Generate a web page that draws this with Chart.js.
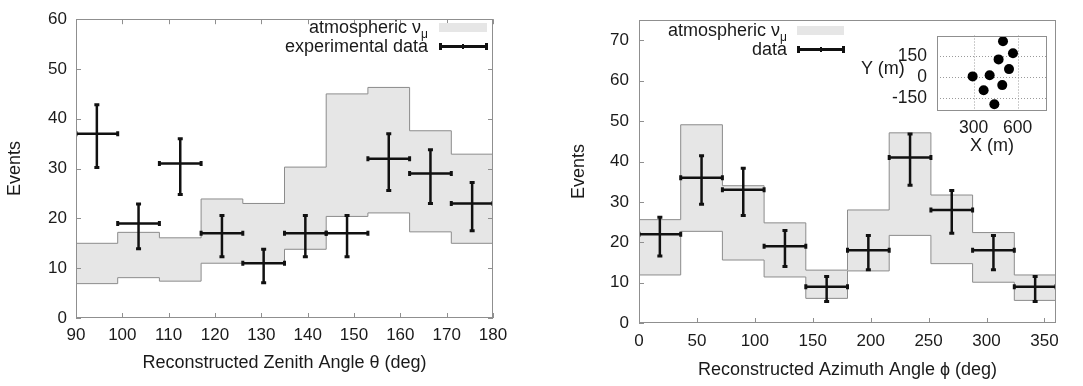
<!DOCTYPE html>
<html>
<head>
<meta charset="utf-8">
<script src="https://cdn.jsdelivr.net/npm/chart.js@4.4.1/dist/chart.umd.min.js"></script>
<style>
  html, body { margin: 0; padding: 0; background: #fff; }
  body { position: relative; width: 1083px; height: 386px; overflow: hidden; font-family: "Liberation Sans", Arial, sans-serif; }
  canvas { position: absolute; }
  .lt { position: absolute; font-size: 18px; line-height: 21px; color: #1a1a1a; white-space: nowrap; text-align: right; }
  .sub { font-size: 12px; position: relative; top: 5px; }
  .sw { position: absolute; background: #e6e6e6; }
  .bar { position: absolute; background: #111; }
</style>
</head>
<body>
<canvas id="zenith" width="540" height="386" style="left:0;top:0"></canvas>
<canvas id="azimuth" width="543" height="386" style="left:540px;top:0"></canvas>
<canvas id="layout" width="200" height="145" style="left:856px;top:15px"></canvas>

<!-- legenda grafico zenitale -->
<div class="lt" style="right:655px;top:17px">atmospheric ν<span class="sub">μ</span></div>
<div class="lt" style="right:655px;top:36px">experimental data</div>
<div class="sw" style="left:439px;top:23px;width:48px;height:9px"></div>
<div class="bar" style="left:439px;top:45px;width:48px;height:2.5px"></div>
<div class="bar" style="left:439px;top:43px;width:2.5px;height:7px"></div>
<div class="bar" style="left:485px;top:43px;width:2.5px;height:7px"></div>
<div class="bar" style="left:462px;top:44px;width:2px;height:5px"></div>

<!-- legenda grafico azimutale -->
<div class="lt" style="right:296px;top:19.5px">atmospheric ν<span class="sub">μ</span></div>
<div class="lt" style="right:296px;top:39px">data</div>
<div class="sw" style="left:797px;top:26px;width:47px;height:9px"></div>
<div class="bar" style="left:797px;top:48px;width:47px;height:2.5px"></div>
<div class="bar" style="left:797px;top:46px;width:2.5px;height:7px"></div>
<div class="bar" style="left:842px;top:46px;width:2.5px;height:7px"></div>
<div class="bar" style="left:820px;top:47px;width:2px;height:5px"></div>

<div class="lt" style="left:861px;top:57.5px">Y (m)</div>

<script>
// dati: angolo zenitale
const zenEdges = [90, 99, 108, 117, 126, 135, 144, 153, 162, 171, 180];
const zenBandLow = [6.9, 8.1, 7.4, 11.0, 11.0, 13.8, 20.4, 21.1, 17.3, 15.0];
const zenBandHigh = [15.0, 17.2, 16.1, 23.9, 23.0, 30.3, 45.0, 46.3, 37.6, 32.9];
const zenCounts = [37, 19, 31, 17, 11, 17, 17, 32, 29, 23];
const zenErrLow = [30.2, 13.9, 24.8, 12.3, 7.1, 12.3, 12.3, 25.6, 23.0, 17.5];
const zenErrHigh = [42.8, 22.9, 36.0, 20.6, 13.8, 20.6, 20.6, 37.0, 33.8, 27.2];
const zenXTicks = [90, 100, 110, 120, 130, 140, 150, 160, 170, 180];
const zenYTicks = [0, 10, 20, 30, 40, 50, 60];

// dati: angolo azimutale
const aziEdges = [0, 36, 72, 108, 144, 180, 216, 252, 288, 324, 360];
const aziBandLow = [11.9, 22.7, 15.6, 11.4, 6.1, 12.9, 21.7, 14.7, 10.1, 5.6];
const aziBandHigh = [25.6, 49.1, 34.0, 24.8, 13.1, 28.0, 47.1, 31.7, 22.4, 11.9];
const aziCounts = [22, 36, 33, 19, 9, 18, 41, 28, 18, 9];
const aziErrLow = [16.6, 29.4, 26.6, 14.0, 5.3, 13.2, 34.1, 22.2, 13.2, 5.3];
const aziErrHigh = [26.2, 41.4, 38.3, 22.9, 11.5, 21.7, 46.8, 32.8, 21.7, 11.5];
const aziXTicks = [0, 50, 100, 150, 200, 250, 300, 350];
const aziYTicks = [0, 10, 20, 30, 40, 50, 60, 70];

// posizione dei rivelatori (riquadro)
const detX = [500, 568, 470, 541, 293, 409, 495, 368, 441];
const detY = [254, 169, 125, 56, 4, 12, -58, -94, -194];
const layoutXTicks = [300, 600];
const layoutYTicks = [-150, 0, 150];

Chart.defaults.font.family = '"Liberation Sans", Arial, sans-serif';
Chart.defaults.color = '#1a1a1a';

// linea a gradini dai bordi dei bin
function stepPoints(edges, vals) {
    return edges.map((e, i) => ({x: e, y: vals[Math.min(i, vals.length - 1)]}));
}
function errH(edges, vals) {
    const out = [];
    vals.forEach((v, i) => {
        out.push({x: edges[i], y: v}, {x: edges[i + 1], y: v}, {x: edges[i + 1], y: null});
    });
    return out;
}
function errV(edges, lo, hi) {
    const out = [];
    lo.forEach((v, i) => {
        const c = (edges[i] + edges[i + 1]) / 2;
        out.push({x: c, y: v}, {x: c, y: hi[i]}, {x: c, y: null});
    });
    return out;
}

// cornice e tacche interne stile gnuplot
const framePlugin = {
    id: 'frame',
    beforeDatasetsDraw(chart, args, opts) {
        if (!opts.grid) return;
        const {ctx, chartArea: a, scales} = chart;
        ctx.save();
        ctx.strokeStyle = '#9a9a9a';
        ctx.lineWidth = 1;
        ctx.setLineDash([1, 2]);
        ctx.beginPath();
        scales.x.ticks.forEach(t => {
            const px = Math.round(scales.x.getPixelForValue(t.value)) + 0.5;
            ctx.moveTo(px, a.top); ctx.lineTo(px, a.bottom);
        });
        scales.y.ticks.forEach(t => {
            const py = Math.round(scales.y.getPixelForValue(t.value)) + 0.5;
            ctx.moveTo(a.left, py); ctx.lineTo(a.right, py);
        });
        ctx.stroke();
        ctx.restore();
    },
    afterDatasetsDraw(chart, args, opts) {
        const {ctx, chartArea: a, scales} = chart;
        ctx.save();
        ctx.strokeStyle = opts.color || '#8f8f8f';
        ctx.lineWidth = 1;
        ctx.strokeRect(Math.round(a.left) + 0.5, Math.round(a.top) + 0.5, Math.round(a.width) - 1, Math.round(a.height) - 1);
        if (opts.ticks) {
            const len = 5;
            ctx.beginPath();
            scales.x.ticks.forEach(t => {
                const px = Math.round(scales.x.getPixelForValue(t.value)) + 0.5;
                ctx.moveTo(px, a.bottom); ctx.lineTo(px, a.bottom - len);
                if (opts.mirror) { ctx.moveTo(px, a.top); ctx.lineTo(px, a.top + len); }
            });
            scales.y.ticks.forEach(t => {
                const py = Math.round(scales.y.getPixelForValue(t.value)) + 0.5;
                ctx.moveTo(a.left, py); ctx.lineTo(a.left + len, py);
                if (opts.mirror) { ctx.moveTo(a.right, py); ctx.lineTo(a.right - len, py); }
            });
            ctx.stroke();
        }
        ctx.restore();
    }
};

function histChart(id, cfg) {
    const tickFont = {size: 17};
    const titleFont = {size: 18};
    return new Chart(document.getElementById(id), {
        type: 'line',
        data: {
            datasets: [{
                data: errH(cfg.edges, cfg.counts),
                borderColor: '#111',
                borderWidth: 2.5,
                pointStyle: 'line',
                pointRotation: 90,
                pointRadius: 2.5,
                pointBorderWidth: 3,
                pointBorderColor: '#111',
                fill: false
            }, {
                data: errV(cfg.edges, cfg.errLow, cfg.errHigh),
                borderColor: '#111',
                borderWidth: 2.5,
                pointStyle: 'line',
                pointRotation: 0,
                pointRadius: 2.5,
                pointBorderWidth: 3,
                pointBorderColor: '#111',
                fill: false
            }, {
                data: stepPoints(cfg.edges, cfg.bandHigh),
                stepped: true,
                borderColor: '#8c8c8c',
                borderWidth: 1,
                pointRadius: 0,
                backgroundColor: '#e6e6e6',
                fill: '+1'
            }, {
                data: stepPoints(cfg.edges, cfg.bandLow),
                stepped: true,
                borderColor: '#8c8c8c',
                borderWidth: 1,
                pointRadius: 0,
                fill: false
            }]
        },
        options: {
            responsive: false,
            animation: false,
            layout: {padding: cfg.padding},
            plugins: {
                legend: {display: false},
                tooltip: {enabled: false},
                filler: {drawTime: 'beforeDatasetsDraw'},
                frame: {ticks: true, mirror: cfg.mirror}
            },
            scales: {
                x: {
                    type: 'linear',
                    min: cfg.xMin,
                    max: cfg.xMax,
                    afterBuildTicks: s => { s.ticks = cfg.xTicks.map(v => ({value: v})); },
                    afterFit: s => { s.height = cfg.xHeight; },
                    grid: {display: false, drawTicks: false},
                    border: {display: false},
                    ticks: {font: tickFont, padding: cfg.xPad, maxRotation: 0, autoSkip: false},
                    title: {display: true, text: cfg.xTitle, font: titleFont, padding: {top: 0, bottom: cfg.xTitlePad}}
                },
                y: {
                    type: 'linear',
                    min: 0,
                    max: cfg.yMax,
                    afterBuildTicks: s => { s.ticks = cfg.yTicks.map(v => ({value: v})); },
                    afterFit: s => { s.width = cfg.yWidth; },
                    grid: {display: false, drawTicks: false},
                    border: {display: false},
                    ticks: {font: tickFont, padding: cfg.yPad},
                    title: {display: true, text: 'Events', font: titleFont, padding: {top: cfg.yTitlePad, bottom: 0}}
                }
            }
        },
        plugins: [framePlugin]
    });
}

histChart('zenith', {
    edges: zenEdges, counts: zenCounts, errLow: zenErrLow, errHigh: zenErrHigh,
    bandLow: zenBandLow, bandHigh: zenBandHigh,
    xMin: 90, xMax: 180, yMax: 60, xTicks: zenXTicks, yTicks: zenYTicks,
    xTitle: 'Reconstructed Zenith Angle θ (deg)',
    padding: {top: 14, right: 47, left: 0, bottom: 0},
    xHeight: 68, yWidth: 76, xPad: 7.5, yPad: 9, xTitlePad: 12, yTitlePad: 4,
    mirror: true
});

histChart('azimuth', {
    edges: aziEdges, counts: aziCounts, errLow: aziErrLow, errHigh: aziErrHigh,
    bandLow: aziBandLow, bandHigh: aziBandHigh,
    xMin: 0, xMax: 360, yMax: 75, xTicks: aziXTicks, yTicks: aziYTicks,
    xTitle: 'Reconstructed Azimuth Angle ϕ (deg)',
    padding: {top: 17, right: 27, left: 0, bottom: 0},
    xHeight: 63, yWidth: 99, xPad: 8.5, yPad: 10, xTitlePad: 5, yTitlePad: 28,
    mirror: false
});

// riquadro con la disposizione dei rivelatori
new Chart(document.getElementById('layout'), {
    type: 'scatter',
    data: {
        datasets: [{
            data: detX.map((x, i) => ({x: x, y: detY[i]})),
            pointRadius: 5,
            backgroundColor: '#000',
            borderColor: '#000',
            borderWidth: 0
        }]
    },
    options: {
        responsive: false,
        animation: false,
        layout: {padding: {top: 10, right: 9, left: 0, bottom: 0}},
        plugins: {
            legend: {display: false},
            tooltip: {enabled: false},
            frame: {grid: true, ticks: false, color: '#8f8f8f'}
        },
        scales: {
            x: {
                type: 'linear',
                min: 50,
                max: 800,
                afterBuildTicks: s => { s.ticks = layoutXTicks.map(v => ({value: v})); },
                afterFit: s => { s.height = 50; },
                grid: {display: false, drawTicks: false},
                border: {display: false},
                ticks: {font: {size: 17.5}, padding: 8, maxRotation: 0},
                title: {display: true, text: 'X (m)', font: {size: 18}, padding: {top: 0, bottom: 3}}
            },
            y: {
                type: 'linear',
                min: -235,
                max: 295,
                afterBuildTicks: s => { s.ticks = layoutYTicks.map(v => ({value: v})); },
                afterFit: s => { s.width = 81; },
                grid: {display: false, drawTicks: false},
                border: {display: false},
                ticks: {font: {size: 17.5}, padding: 10}
            }
        }
    },
    plugins: [framePlugin]
});
</script>
</body>
</html>
